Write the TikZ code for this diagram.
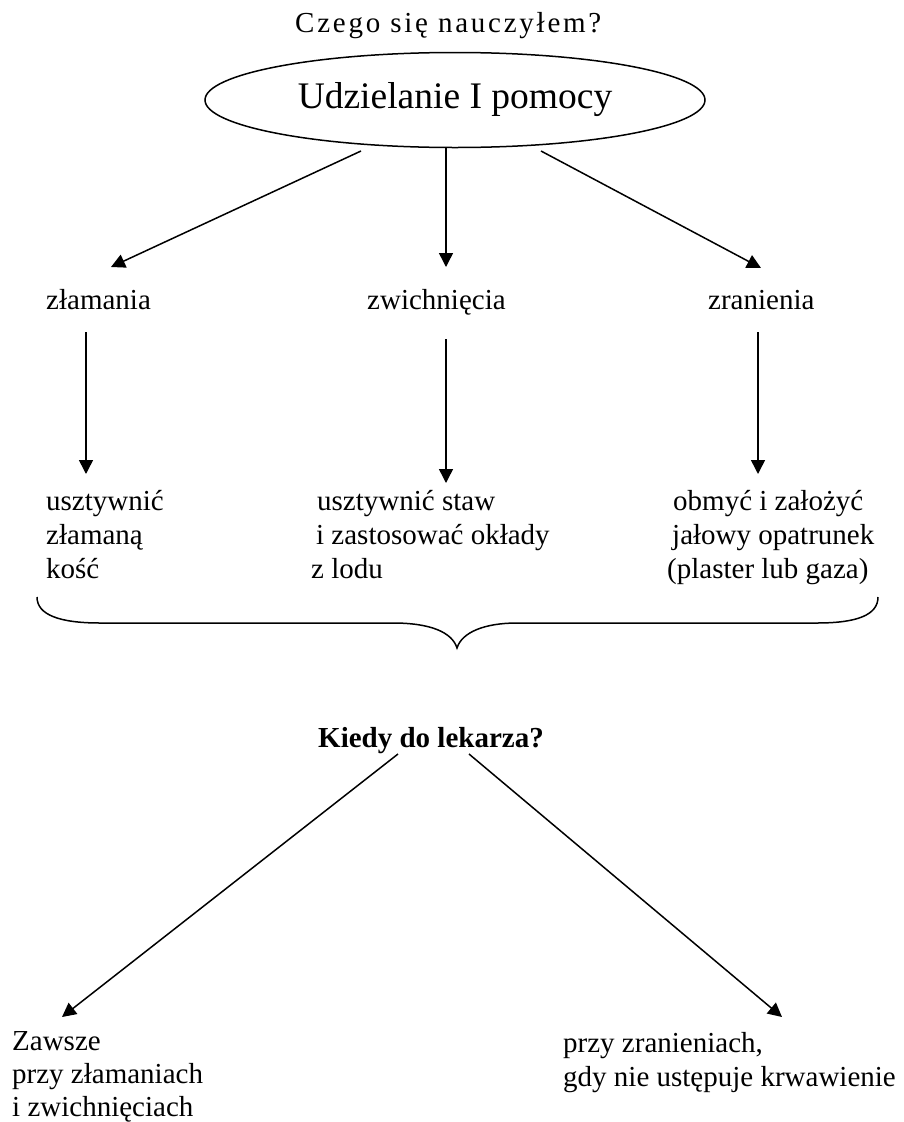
\documentclass[tikz,border=0pt]{standalone}
\usepackage{fontspec}
\setmainfont{Liberation Serif}
\newfontfamily\spacedfont[LetterSpace=9.5]{Liberation Serif}
\usetikzlibrary{arrows.meta,shapes.geometric}
\newcommand\vlines[2][34pt]{\vtop{\baselineskip=#1\lineskip=0pt\halign{##\hfil\cr#2\crcr}}}
\tikzset{
  txt/.style={anchor=base west,inner sep=0pt,font=\fontsize{29}{34}\selectfont},
  arr/.style={line width=1.5pt,-{Triangle[length=14pt,width=14pt]}},
  ln/.style={line width=1.5pt}
}
\begin{document}
\begin{tikzpicture}[x=1pt,y=-1pt]
\useasboundingbox (0,0) rectangle (903,1122);
% title
\node[txt,font=\fontsize{29}{34}\spacedfont] (title) at (295,32) {Czego się nauczyłem?};
% ellipse
\node[ellipse,draw,line width=1.5pt,minimum width=500pt,minimum height=95pt,inner sep=0pt,
      font=\fontsize{37.5}{40}\selectfont] (e) at (455,100) {Udzielanie I pomocy};
% level 1
\node[txt] (zl) at (46,309) {złamania};
\node[txt] (zw) at (367,309) {zwichnięcia};
\node[txt] (zr) at (708,309) {zranienia};
% level 2
\node[txt] (a1) at (46,510) {\vlines{usztywnić\cr złamaną\cr kość}};
\node[txt] (a2) at (317,510) {\vlines{usztywnić staw\cr\hskip-1pt i zastosować okłady\cr\hskip-6pt z lodu}};
\node[txt] (a3) at (673,510) {\vlines{obmyć i założyć\cr\hskip-1pt jałowy opatrunek\cr\hskip-6pt (plaster lub gaza)}};
% question
\node[txt,font=\fontsize{29}{34}\selectfont\bfseries] (kd) at (318,747) {Kiedy do lekarza?};
% bottom
\node[txt] (b1) at (12,1050) {\vlines[33pt]{Zawsze\cr przy złamaniach\cr i zwichnięciach}};
\node[txt] (b2) at (563,1052) {\vlines{przy zranieniach,\cr gdy nie ustępuje krwawienie}};
% connector endpoints
\coordinate (e1) at (361,151);
\coordinate (e2) at (446,148);
\coordinate (e3) at (541,151);
\coordinate (t1) at (111,267);
\coordinate (t2) at (446,267);
\coordinate (t3) at (761,268);
\coordinate (zl1) at (86,332);
\coordinate (zl2) at (86,474);
\coordinate (zw1) at (446,339);
\coordinate (zw2) at (446,483);
\coordinate (zr1) at (758,332);
\coordinate (zr2) at (758,474);
\coordinate (k1) at (398,754);
\coordinate (k2) at (469,754);
\coordinate (kt1) at (62,1017);
\coordinate (kt2) at (782,1017);
% arrows
\draw[arr] (e1) -- (t1);
\draw[arr] (e2) -- (t2);
\draw[arr] (e3) -- (t3);
\draw[arr] (zl1) -- (zl2);
\draw[arr] (zw1) -- (zw2);
\draw[arr] (zr1) -- (zr2);
\draw[arr] (k1) -- (kt1);
\draw[arr] (k2) -- (kt2);
% brace
\draw[ln] (37,597) .. controls (37,615) and (60,623) .. (100,623) -- (393,623)
  .. controls (430,623) and (452,632) .. (457,648)
  .. controls (462,632) and (485,623) .. (517,623) -- (817,623)
  .. controls (857,623) and (878,615) .. (878,597);
\end{tikzpicture}
\end{document}
